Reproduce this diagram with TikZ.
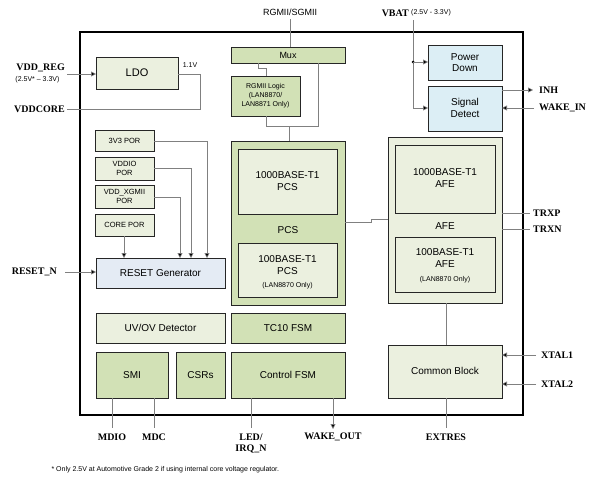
\documentclass[tikz,border=0pt]{standalone}
\usepackage{fontspec}
\setmainfont{Liberation Sans}
\newfontfamily\pinfont{Liberation Serif}
\usetikzlibrary{arrows.meta}
\definecolor{lg}{HTML}{EBF0DF}
\definecolor{dg}{HTML}{D2E1B6}
\definecolor{bl}{HTML}{DCEEF5}
\definecolor{rb}{HTML}{E4EBF4}
\definecolor{ln}{HTML}{808080}
\begin{document}
\begin{tikzpicture}[x=1pt,y=-1pt,
  blk/.style={draw=black!85,line width=0.9pt,inner sep=0pt,font=\fontsize{10}{11.5}\selectfont,align=center},
  sm/.style={font=\fontsize{7}{8}\selectfont},
  pin/.style={font=\pinfont\bfseries\fontsize{10}{11}\selectfont,inner sep=1pt},
  wire/.style={draw=ln,line width=0.6pt},
  arr/.style={wire,-{Triangle[length=5pt,width=5pt,fill=black]}}]
\useasboundingbox (0,0) rectangle (600,479);
\draw[line width=1.3pt] (80,32) rectangle (523,415);
% boxes
\path[blk,fill=dg] (231,47) rectangle (345,63); \node[blk,draw=none,font=\fontsize{9}{10}\selectfont] (mux) at (288,55) {Mux};
\coordinate (muxb) at (258,63);
\path[blk,fill=lg] (96,57) rectangle (178,89); \node[blk,draw=none,font=\fontsize{11}{12}\selectfont] (ldo) at (137,73) {LDO};
\path[blk,fill=dg] (231,76) rectangle (300,116); \node[blk,draw=none,font=\fontsize{7}{9}\selectfont] (rgl) at (265.5,96) {RGMII Logic\\(LAN8870/\\LAN8871 Only)};
\path[blk,fill=dg] (231,141) rectangle (345,305); \node (pcs) at (288,223) {};
\path[blk,fill=lg] (238,149) rectangle (337,214); \node[blk,draw=none] (p1000) at (287.5,181) {1000BASE-T1\\PCS};
\node[font=\fontsize{10}{11}\selectfont] (pcsl) at (288,230) {PCS};
\path[blk,fill=lg] (238,243) rectangle (337,297); \node[blk,draw=none] (p100) at (287.5,265) {100BASE-T1\\PCS};
\node[sm] at (287.5,286) {(LAN8870 Only)};
\path[blk,fill=lg] (388,137) rectangle (502,303);
\path[blk,fill=lg] (395,145) rectangle (495,213); \node[blk,draw=none] (a1000) at (445,178) {1000BASE-T1\\AFE};
\node[font=\fontsize{10}{11}\selectfont] (afel) at (445,226) {AFE};
\path[blk,fill=lg] (395,237) rectangle (495,292); \node[blk,draw=none] (a100) at (445,258) {100BASE-T1\\AFE};
\node[sm] at (445,280) {(LAN8870 Only)};
\path[blk,fill=bl] (428,45) rectangle (502,80); \node[blk,draw=none] (pd) at (465,62.5) {Power\\Down};
\path[blk,fill=bl] (428,86) rectangle (502,131); \node[blk,draw=none] (sd) at (465,108) {Signal\\Detect};
\path[blk,fill=lg] (95,130) rectangle (154,151); \node[blk,draw=none,font=\fontsize{7.5}{8.5}\selectfont] (p3) at (124.5,140.5) {3V3 POR};
\path[blk,fill=lg] (95,157) rectangle (154,180); \node[blk,draw=none,font=\fontsize{7.5}{8.5}\selectfont] (pio) at (124.5,168.5) {VDDIO\\POR};
\path[blk,fill=lg] (95,185) rectangle (154,208); \node[blk,draw=none,font=\fontsize{7.5}{8.5}\selectfont] (px) at (124.5,196.5) {VDD\_XGMII\\POR};
\path[blk,fill=lg] (95,214) rectangle (154,236); \node[blk,draw=none,font=\fontsize{7.5}{8.5}\selectfont] (pc) at (124.5,225) {CORE POR};
\path[blk,fill=rb] (96,258) rectangle (225,288); \node[blk,draw=none] (rg) at (160.5,273) {RESET Generator};
\path[blk,fill=lg] (96,313) rectangle (225,343); \node[blk,draw=none] (uv) at (160.5,328) {UV/OV Detector};
\path[blk,fill=dg] (231,313) rectangle (345,343); \node[blk,draw=none] (tc) at (288,328) {TC10 FSM};
\path[blk,fill=dg] (96,352) rectangle (168,398); \node[blk,draw=none] (smi) at (132,375) {SMI};
\path[blk,fill=dg] (176,352) rectangle (225,398); \node[blk,draw=none] (csr) at (200.5,375) {CSRs};
\path[blk,fill=dg] (231,352) rectangle (345,398); \node[blk,draw=none] (cf) at (288,375) {Control FSM};
\path[blk,fill=lg] (388,345) rectangle (502,398); \node[blk,draw=none] (cb) at (445,371) {Common Block};
% top signals
\node[font=\fontsize{9}{10}\selectfont] (rgm) at (290,12) {RGMII/SGMII};
\draw[wire] (290,19) -- (290,47);
\node[pin,anchor=east] (vbat) at (410,13) {VBAT};
\node[sm,anchor=west,inner sep=0pt] at (411,13) {(2.5V - 3.3V)};
\coordinate (vb) at (413,20);
\draw[wire] (vb) -- (413,108);
\fill (413,62) circle (1.5pt);
\draw[arr] (413,62) -- (428,62);
\draw[arr] (413,108) -- (428,108);
% mux / rgmii wiring
\draw[wire] (muxb) -- (258,68) -- (266,68) -- (266,76);
\draw[wire] (266,116) -- (266,126) -- (318,126) -- (318,63);
\draw[wire] (289,126) -- (289,141);
\draw[wire] (345,222) -- (371,222) -- (371,219) -- (388,219);
\draw[wire] (446,303) -- (446,345);
% LDO
\node[pin,anchor=east] (vreg) at (66,68) {VDD\_REG};
\node[sm,anchor=east] at (63,80) {(2.5V* -- 3.3V)};
\draw[arr] (67,74) -- (96,74);
\node[sm] at (190,65) {1.1V};
\draw[wire] (178,74) -- (200,74) -- (200,109) -- (67,109);
\node[pin,anchor=east] (vcore) at (66,109) {VDDCORE};
% POR wiring
\draw[arr] (154,141) -- (207,141) -- (207,258);
\draw[arr] (154,168) -- (191,168) -- (191,258);
\draw[arr] (154,197) -- (180,197) -- (180,258);
\draw[arr] (124,236) -- (124,258);
\node[pin,anchor=east] (rst) at (58,272) {RESET\_N};
\draw[arr] (65,272) -- (96,272);
% right pins
\draw[arr] (502,90) -- (533,90); \node[pin,anchor=west] (inh) at (538,90) {INH};
\draw[arr] (534,108) -- (502,108); \node[pin,anchor=west] (wk) at (538,108) {WAKE\_IN};
\draw[wire] (502,213) -- (530,213); \node[pin,anchor=west] (trxp) at (532,213) {TRXP};
\draw[wire] (502,229) -- (530,229); \node[pin,anchor=west] (trxn) at (532,229) {TRXN};
\draw[arr] (536,355) -- (502,355); \node[pin,anchor=west] (x1) at (540,355) {XTAL1};
\draw[arr] (536,384) -- (502,384); \node[pin,anchor=west] (x2) at (540,384) {XTAL2};
% bottom pins
\draw[wire] (112,398) -- (112,428); \node[pin] (mdio) at (112,437) {MDIO};
\draw[wire] (154,398) -- (154,428); \node[pin] (mdc) at (154,437) {MDC};
\draw[wire] (251,398) -- (251,428); \node[pin,align=center] (led) at (251,444) {LED/\\IRQ\_N};
\draw[arr] (333,398) -- (333,429); \node[pin] (wo) at (333,437) {WAKE\_OUT};
\draw[wire] (446,398) -- (446,428); \node[pin] (ext) at (446,437) {EXTRES};
\node[sm,anchor=west] at (48,470) {* Only 2.5V at Automotive Grade 2 if using internal core voltage regulator.};
\end{tikzpicture}
\end{document}
